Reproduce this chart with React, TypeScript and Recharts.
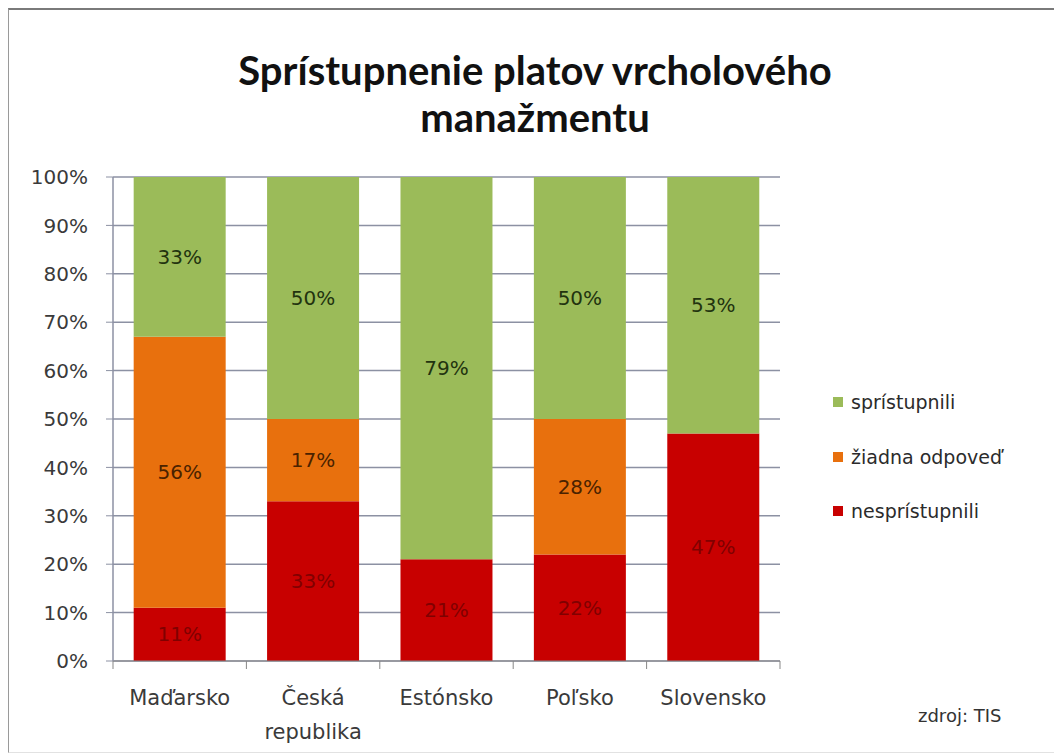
import { BarChart, Bar, XAxis, YAxis, CartesianGrid, LabelList } from 'recharts';

const countries = ['Maďarsko', 'Česká republika', 'Estónsko', 'Poľsko', 'Slovensko'];
const nespristupnili = [11, 33, 21, 22, 47];
const ziadnaOdpoved = [56, 17, 0, 28, 0];
const spristupnili = [33, 50, 79, 50, 53];
const yTicks = [0, 10, 20, 30, 40, 50, 60, 70, 80, 90, 100];

const data = countries.map((name, i) => ({
  name,
  nespristupnili: nespristupnili[i],
  ziadna: ziadnaOdpoved[i],
  spristupnili: spristupnili[i],
}));

const FONT = '"DejaVu Sans", sans-serif';
const TITLE_FONT = 'Lato, sans-serif';
const GREEN = '#9bbb59';
const ORANGE = '#e8700d';
const RED = '#c80000';

const W = 1054;
const H = 756;
const M = { top: 177, right: 274, left: 53, bottom: 35 };
const Y_W = 60;
const BAND = (W - M.left - Y_W - M.right) / countries.length;

const legendItems = [
  { label: 'sprístupnili', color: GREEN },
  { label: 'žiadna odpoveď', color: ORANGE },
  { label: 'nesprístupnili', color: RED },
];

const CategoryTick = (props: any) => {
  const { x, y, payload, index } = props;
  const words = String(payload.value).split(' ');
  return (
    <g>
      <line x1={x - BAND / 2} y1={y - 8} x2={x - BAND / 2} y2={y} stroke="#878787" />
      {index === countries.length - 1 && (
        <line x1={x + BAND / 2} y1={y - 8} x2={x + BAND / 2} y2={y} stroke="#878787" />
      )}
      <text x={x} y={y + 36} textAnchor="middle" fill="#3a3a3a" fontSize={21} fontFamily={FONT}>
        {words.map((w, i) => (
          <tspan key={i} x={x} dy={i === 0 ? 0 : 34}>{w}</tspan>
        ))}
      </text>
    </g>
  );
};

const pct = (v: any) => (Number(v) > 0 ? `${v}%` : '');

export default function App() {
  return (
    <div style={{ position: 'absolute', left: 0, top: 0, width: W, height: H, background: '#fff', overflow: 'hidden' }}>
      <div style={{
        position: 'absolute', left: 8, top: 8, width: 1100, height: 742,
        borderTop: '2px solid #7a7a7a', borderLeft: '1px solid #9a9a9a', borderBottom: '1px solid #e2e2e2',
      }} />
      <div style={{
        position: 'absolute', left: 0, top: 47, width: 1070, textAlign: 'center',
        fontFamily: TITLE_FONT, fontWeight: 700, fontSize: 40, lineHeight: '47px', color: '#111',
      }}>
        Sprístupnenie platov vrcholového<br />manažmentu
      </div>
      <div style={{ position: 'absolute', left: 918, top: 705, fontFamily: FONT, fontSize: 18, color: '#333' }}>
        zdroj: TIS
      </div>
      <div style={{ position: 'absolute', left: 833, top: 375, fontFamily: FONT, fontSize: 19, color: '#2b2b2b' }}>
        {legendItems.map((it) => (
          <div key={it.label} style={{ display: 'flex', alignItems: 'center', height: 54.5 }}>
            <span style={{ display: 'inline-block', width: 10, height: 10, background: it.color, marginRight: 8 }} />
            {it.label}
          </div>
        ))}
      </div>
      <div style={{ position: 'absolute', left: 0, top: 0 }}>
        <BarChart width={W} height={H} data={data} margin={M} barCategoryGap="15.5%">
          <CartesianGrid vertical={false} stroke="#8c91a3" strokeWidth={1.5} />
          <XAxis
            dataKey="name"
            interval={0}
            tick={<CategoryTick />}
            tickLine={false}
            axisLine={{ stroke: '#878787' }}
            height={60}
          />
          <YAxis
            domain={[0, 100]}
            ticks={yTicks}
            tickFormatter={(v) => `${v}%`}
            width={Y_W}
            axisLine={{ stroke: '#8c91a3', strokeWidth: 1.5 }}
            tickLine={{ stroke: '#8c91a3' }}
            tickSize={7}
            tickMargin={18}
            tick={{ fill: '#3a3a3a', fontSize: 20, fontFamily: FONT }}
          />
          <Bar dataKey="nespristupnili" stackId="a" fill={RED} isAnimationActive={false}>
            <LabelList dataKey="nespristupnili" position="center" formatter={pct} fill="#800000" fontSize={20} fontFamily={FONT} />
          </Bar>
          <Bar dataKey="ziadna" stackId="a" fill={ORANGE} isAnimationActive={false}>
            <LabelList dataKey="ziadna" position="center" formatter={pct} fill="#4a2200" fontSize={20} fontFamily={FONT} />
          </Bar>
          <Bar dataKey="spristupnili" stackId="a" fill={GREEN} isAnimationActive={false}>
            <LabelList dataKey="spristupnili" position="center" formatter={pct} fill="#22330f" fontSize={20} fontFamily={FONT} />
          </Bar>
        </BarChart>
      </div>
    </div>
  );
}
